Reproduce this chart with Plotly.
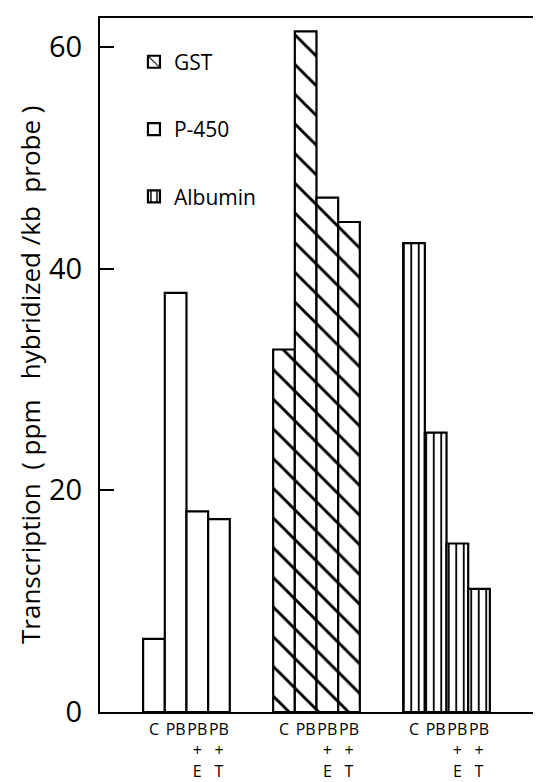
import plotly.graph_objects as go

# ---- data ----
genes = ["P-450", "GST", "Albumin"]
conditions = ["C", "PB", "PB<br>+<br>E", "PB<br>+<br>T"]
p450 = [6.6, 37.8, 18.1, 17.4]
gst = [32.7, 61.4, 46.4, 44.2]
albumin = [42.3, 25.2, 15.2, 11.1]
yticks = [0, 20, 40, 60]

series = {"P-450": p450, "GST": gst, "Albumin": albumin}
patterns = {"P-450": dict(shape=""),
            "GST": dict(shape="\\", size=21, solidity=0.14, fgcolor="black",
                        bgcolor="white", fgopacity=1),
            "Albumin": dict(shape="|", size=7.5, solidity=0.24, fgcolor="black",
                            bgcolor="white", fgopacity=1)}
ranks = {"GST": 1, "P-450": 2, "Albumin": 3}

FONT = "Open Sans"
group_step = 6

fig = go.Figure()
tickvals, ticktext = [], []
for g, name in enumerate(genes):
    xs = [g * group_step + i for i in range(len(conditions))]
    tickvals += xs
    ticktext += conditions
    fig.add_trace(go.Bar(
        x=xs, y=series[name], name=name, width=1,
        marker=dict(color="white", line=dict(color="black", width=2.2),
                    pattern=patterns[name]),
        legendgroup=name, legendrank=ranks[name],
    ))

# the page body has an 8px margin, so the figure is sized/offset to compensate
fig.update_layout(
    width=533, height=774,
    margin=dict(l=92, r=0, t=10, b=70),
    paper_bgcolor="white", plot_bgcolor="white",
    barmode="overlay",
    font=dict(family=FONT, color="black"),
    showlegend=True,
    legend=dict(x=0.077, y=0.966, xanchor="left", yanchor="top",
                font=dict(size=21, family=FONT), tracegroupgap=37,
                bgcolor="rgba(0,0,0,0)", itemwidth=30),
)
fig.update_xaxes(
    range=[-2.49, 17.86], tickmode="array", tickvals=tickvals, ticktext=ticktext,
    showline=True, mirror=True, linecolor="black", linewidth=2,
    ticks="", showgrid=False, zeroline=False, tickangle=0,
    tickfont=dict(size=16, family=FONT), ticklabelstandoff=2,
)
fig.update_yaxes(
    range=[0, 62.6], tickmode="array", tickvals=yticks,
    showline=True, linecolor="black", linewidth=2,
    ticks="inside", ticklen=14, tickwidth=2, tickcolor="black",
    showgrid=False, zeroline=False,
    tickfont=dict(size=29, family=FONT), ticklabelstandoff=10,
)
fig.add_annotation(
    text="Transcription  ( ppm   hybridized /kb  probe )",
    xref="paper", yref="paper", x=-0.1587, y=0.4856,
    xanchor="center", yanchor="middle",
    textangle=-90, showarrow=False, font=dict(size=26, family=FONT),
)
fig.write_html("out.html")
